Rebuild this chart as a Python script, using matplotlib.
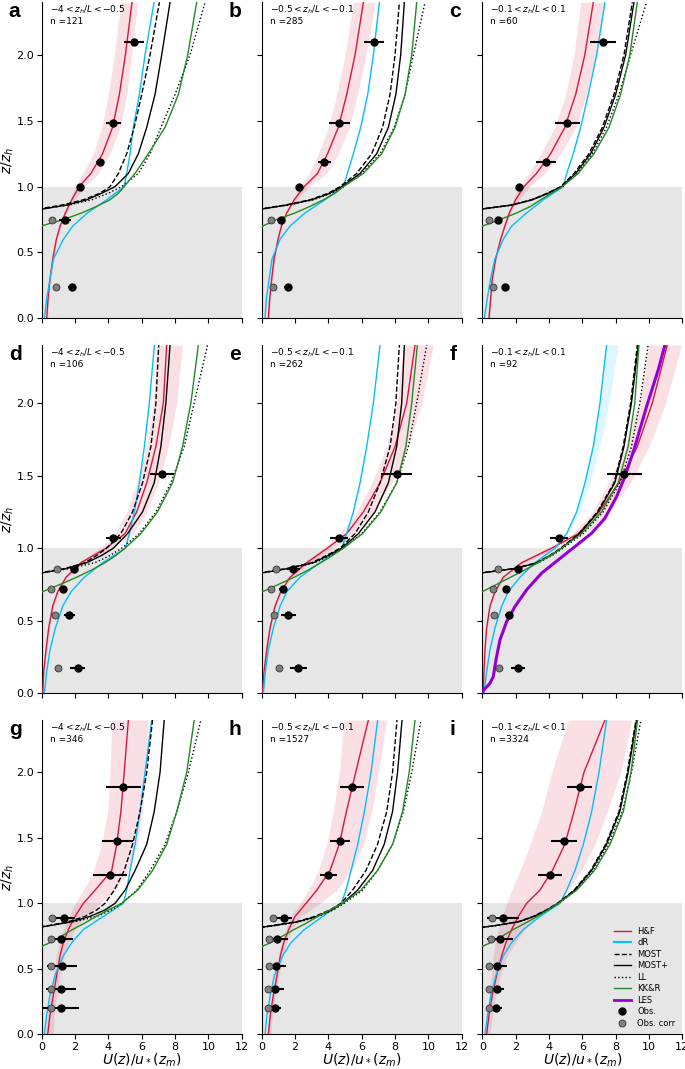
#!/usr/bin/env python3
# -*- coding: utf-8 -*-
"""
Perfiles de viento adimensionales U(z)/u*(zm) vs z/zh
9 paneles: 3 rangos de estabilidad x 3 sitios
"""

import matplotlib
matplotlib.use('Agg')
import matplotlib.pyplot as plt
from matplotlib.lines import Line2D

#%% Datos

# niveles verticales (z/zh)
z_full = [0, 0.15, 0.3, 0.45, 0.6, 0.7, 0.8, 0.9, 1.0, 1.1, 1.25, 1.45, 1.7, 2.0, 2.4]
z_log = [0.80, 0.83, 0.86, 0.90, 0.95, 1.0, 1.1, 1.25, 1.45, 1.7, 2.0, 2.4]
z_kkr = [0.66, 0.70, 0.75, 0.80, 0.85, 0.90, 0.95, 1.0, 1.1, 1.25, 1.45, 1.7, 2.0, 2.4]

letras = ['a', 'b', 'c', 'd', 'e', 'f', 'g', 'h', 'i']
rangos = ['$-4 < z_h/L < -0.5$', '$-0.5 < z_h/L < -0.1$', '$-0.1 < z_h/L < 0.1$'] * 3
n_casos = [121, 285, 60, 106, 262, 92, 346, 1527, 3324]

# H&F (curva y banda)
hf_u = [
    [0.3, 0.38, 0.5, 0.66, 0.88, 1.1, 1.42, 1.8, 2.25, 2.95, 3.65, 4.25, 4.66, 5.02, 5.42],
    [0.4, 0.48, 0.6, 0.74, 0.98, 1.18, 1.5, 1.95, 2.55, 3.35, 3.95, 4.6, 5.1, 5.6, 6.1],
    [0.4, 0.5, 0.6, 0.8, 1.1, 1.35, 1.62, 2.0, 2.5, 3.25, 4.1, 4.95, 5.6, 6.15, 6.66],
    [0.06, 0.12, 0.26, 0.42, 0.66, 0.96, 1.46, 2.36, 3.86, 5.0, 5.7, 6.3, 6.85, 7.3, 7.5],
    [0.04, 0.14, 0.3, 0.5, 0.8, 1.14, 1.7, 2.7, 3.94, 5.1, 6.1, 7.1, 8.0, 8.7, 9.2],
    [0.06, 0.1, 0.16, 0.26, 0.46, 0.76, 1.26, 2.36, 4.16, 5.76, 7.0, 8.2, 9.3, 10.2, 11.1],
    [0.36, 0.5, 0.7, 0.9, 1.1, 1.3, 1.6, 2.0, 2.5, 3.2, 4.2, 4.5, 4.75, 4.95, 5.2],
    [0.4, 0.52, 0.7, 0.92, 1.12, 1.32, 1.62, 2.0, 2.66, 3.3, 4.1, 4.65, 5.08, 5.64, 6.4],
    [0.26, 0.4, 0.6, 0.86, 1.16, 1.42, 1.76, 2.16, 2.66, 3.45, 4.2, 4.95, 5.5, 6.1, 7.36],
]
hf_lo = [
    [0.25, 0.33, 0.45, 0.6, 0.82, 1.04, 1.35, 1.7, 2.0, 2.45, 3.1, 3.6, 4.0, 4.35, 4.75],
    [0.35, 0.43, 0.55, 0.69, 0.93, 1.12, 1.44, 1.85, 2.3, 2.85, 3.4, 4.0, 4.5, 5.0, 5.5],
    [0.35, 0.45, 0.55, 0.75, 1.05, 1.3, 1.55, 1.85, 2.2, 2.8, 3.5, 4.35, 5.0, 5.5, 5.9],
    [0.04, 0.1, 0.22, 0.38, 0.6, 0.9, 1.38, 2.2, 3.5, 4.4, 5.1, 5.7, 6.3, 6.7, 6.9],
    [0.02, 0.1, 0.26, 0.45, 0.74, 1.08, 1.62, 2.55, 3.7, 4.7, 5.7, 6.6, 7.5, 8.1, 8.5],
    [0.04, 0.08, 0.14, 0.23, 0.42, 0.7, 1.18, 2.2, 3.9, 5.4, 6.6, 7.6, 8.6, 9.4, 10.0],
    [0.2, 0.35, 0.52, 0.7, 0.88, 1.05, 1.3, 1.65, 2.0, 2.5, 3.1, 3.6, 3.95, 4.1, 4.2],
    [0.3, 0.42, 0.6, 0.8, 1.0, 1.18, 1.45, 1.75, 2.3, 2.8, 3.4, 3.9, 4.3, 4.65, 4.95],
    [0.16, 0.28, 0.42, 0.55, 0.65, 0.76, 0.96, 1.2, 1.46, 1.76, 2.26, 2.86, 3.56, 4.16, 5.16],
]
hf_hi = [
    [0.35, 0.43, 0.55, 0.72, 0.94, 1.16, 1.5, 1.95, 2.6, 3.4, 4.1, 4.7, 5.1, 5.4, 5.75],
    [0.45, 0.53, 0.65, 0.8, 1.04, 1.24, 1.56, 2.1, 2.85, 3.9, 4.6, 5.25, 5.75, 6.25, 6.8],
    [0.45, 0.55, 0.65, 0.85, 1.15, 1.4, 1.7, 2.2, 2.85, 3.75, 4.7, 5.6, 6.25, 6.8, 7.35],
    [0.08, 0.15, 0.3, 0.48, 0.72, 1.04, 1.56, 2.55, 4.2, 5.5, 6.3, 7.0, 7.6, 8.1, 8.45],
    [0.06, 0.18, 0.34, 0.55, 0.86, 1.2, 1.8, 2.9, 4.3, 5.6, 6.7, 7.8, 8.8, 9.6, 10.3],
    [0.08, 0.12, 0.18, 0.29, 0.5, 0.82, 1.34, 2.5, 4.4, 6.2, 7.6, 8.9, 10.0, 11.0, 11.95],
    [0.7, 0.75, 0.9, 1.1, 1.35, 1.6, 2.0, 2.6, 3.5, 4.4, 5.2, 5.75, 6.05, 6.25, 6.4],
    [0.55, 0.65, 0.82, 1.05, 1.27, 1.5, 1.85, 2.35, 3.5, 4.5, 5.4, 6.1, 6.6, 7.0, 7.5],
    [0.46, 0.6, 0.8, 1.1, 1.5, 2.0, 2.55, 3.3, 4.5, 5.15, 5.95, 6.75, 7.5, 8.3, 8.96],
]

# dR
dr_u = [
    [0.16, 0.3, 0.5, 0.7, 1.3, 1.86, 2.74, 3.9, 4.94, 5.1, 5.3, 5.5, 5.86, 6.2, 6.74],
    [0.2, 0.28, 0.45, 0.62, 1.1, 1.7, 2.6, 3.8, 4.9, 5.14, 5.5, 5.94, 6.36, 6.7, 7.06],
    [0.12, 0.3, 0.5, 0.75, 1.26, 1.76, 2.66, 3.66, 4.86, 5.06, 5.46, 5.9, 6.36, 6.86, 7.36],
    [0.16, 0.3, 0.5, 0.82, 1.26, 1.76, 2.56, 3.66, 5.02, 5.26, 5.56, 5.86, 6.16, 6.46, 6.76],
    [0.1, 0.22, 0.4, 0.7, 1.1, 1.5, 2.3, 3.5, 4.8, 5.1, 5.5, 5.9, 6.3, 6.7, 7.1],
    [0.1, 0.26, 0.46, 0.76, 1.16, 1.56, 2.26, 3.16, 4.36, 5.06, 5.66, 6.16, 6.66, 7.06, 7.46],
    [0.16, 0.3, 0.5, 0.8, 1.3, 1.8, 2.5, 3.7, 4.9, 5.1, 5.3, 5.6, 5.9, 6.2, 6.6],
    [0.2, 0.32, 0.52, 0.76, 1.26, 1.76, 2.56, 3.66, 4.76, 5.06, 5.36, 5.76, 6.16, 6.56, 6.96],
    [0.16, 0.32, 0.52, 0.82, 1.26, 1.76, 2.46, 3.46, 4.66, 5.06, 5.56, 6.06, 6.56, 7.0, 7.46],
]
dr_hi_f = [0.1, 0.26, 0.46, 0.76, 1.16, 1.56, 2.26, 3.16, 4.36, 5.15, 5.85, 6.45, 7.05, 7.6, 8.16]

# MOST, MOST+, LL (sobre z_log)
most_u = [
    [-2, -0.2, 1.2, 2.5, 3.5, 4.1, 4.6, 5.1, 5.55, 6.0, 6.5, 7.06],
    [-2, -0.1, 1.4, 2.9, 4.0, 4.7, 5.7, 6.6, 7.25, 7.7, 8.0, 8.26],
    [-2, -0.1, 1.7, 2.95, 3.9, 4.7, 5.5, 6.4, 7.2, 7.9, 8.5, 9.0],
    [-2, -0.1, 1.4, 2.6, 3.3, 3.9, 4.75, 5.45, 6.05, 6.55, 6.85, 7.02],
    [-2, -0.1, 1.5, 3.0, 3.9, 4.7, 5.6, 6.4, 7.1, 7.7, 8.05, 8.26],
    [-2, -0.1, 1.9, 3.25, 4.05, 4.7, 5.8, 6.9, 7.9, 8.45, 8.9, 9.3],
    [-1, 0.4, 1.6, 2.6, 3.3, 3.8, 4.35, 4.95, 5.45, 5.9, 6.3, 6.65],
    [-1, 0.6, 2.1, 3.2, 4.1, 4.75, 5.45, 6.25, 6.95, 7.5, 7.85, 8.12],
    [-1, 0.75, 2.15, 3.05, 3.85, 4.5, 5.5, 6.5, 7.4, 8.2, 8.7, 9.22],
]
mostp_u = [
    [-1.5, 0.05, 1.5, 2.7, 3.6, 4.4, 5.2, 5.8, 6.3, 6.8, 7.2, 7.7],
    [-2, 0.0, 1.5, 3.0, 4.1, 4.8, 5.9, 6.9, 7.6, 8.05, 8.34, 8.56],
    [-2, 0.0, 1.8, 3.0, 3.95, 4.75, 5.6, 6.5, 7.3, 8.0, 8.6, 9.1],
    [-2, 0.05, 1.5, 2.7, 3.6, 4.3, 5.15, 6.05, 6.75, 7.15, 7.45, 7.7],
    [-2, 0.05, 1.6, 3.1, 4.0, 4.8, 5.8, 6.8, 7.6, 8.1, 8.4, 8.56],
    [-2, 0.0, 2.0, 3.3, 4.1, 4.75, 5.85, 6.95, 7.95, 8.5, 8.95, 9.36],
    [-1, 0.5, 1.8, 2.9, 3.8, 4.4, 5.0, 5.6, 6.3, 6.75, 7.1, 7.35],
    [-1, 0.7, 2.2, 3.3, 4.2, 4.85, 5.75, 6.65, 7.35, 7.85, 8.15, 8.42],
    [-1, 0.8, 2.2, 3.1, 3.9, 4.55, 5.55, 6.55, 7.45, 8.25, 8.75, 9.26],
]
ll_u = [
    [-2, 0.0, 1.6, 3.0, 4.0, 4.8, 5.8, 6.5, 7.15, 8.0, 8.9, 9.8],
    [-2, 0.0, 1.6, 3.1, 4.2, 4.9, 6.0, 7.1, 7.95, 8.6, 9.1, 9.8],
    [-2, 0.0, 1.8, 3.0, 4.0, 4.8, 5.7, 6.6, 7.45, 8.2, 8.9, 9.85],
    [-2, 0.0, 1.7, 3.2, 4.1, 4.8, 5.85, 6.85, 7.75, 8.55, 9.15, 9.95],
    [-2, 0.0, 1.7, 3.2, 4.1, 4.9, 6.0, 7.1, 8.1, 8.8, 9.3, 9.9],
    [-2, 0.0, 2.0, 3.35, 4.2, 4.85, 6.05, 7.25, 8.25, 8.95, 9.45, 9.95],
    [-1, 0.45, 2.0, 3.3, 4.2, 4.8, 5.7, 6.5, 7.4, 8.1, 8.8, 9.55],
    [-1, 0.8, 2.3, 3.4, 4.3, 4.95, 6.05, 6.95, 7.85, 8.5, 9.0, 9.56],
    [-1, 0.8, 2.25, 3.15, 3.95, 4.6, 5.6, 6.65, 7.55, 8.4, 8.95, 9.52],
]

# KK&R (sobre z_kkr)
kkr_u = [
    [-0.9, -0.05, 1.3, 2.4, 3.3, 4.1, 4.6, 4.94, 5.6, 6.4, 7.4, 8.2, 8.76, 9.3],
    [-0.9, 0.05, 0.9, 2.0, 2.9, 3.7, 4.4, 4.9, 6.1, 7.2, 8.0, 8.6, 9.0, 9.3],
    [-0.9, 0.0, 1.06, 2.06, 2.9, 3.5, 4.15, 4.8, 5.75, 6.7, 7.6, 8.3, 8.85, 9.3],
    [-0.9, 0.05, 1.1, 2.1, 3.0, 3.8, 4.45, 5.0, 5.95, 6.95, 7.85, 8.45, 8.95, 9.4],
    [-0.9, 0.05, 1.0, 1.95, 2.8, 3.55, 4.25, 4.9, 6.05, 7.15, 8.1, 8.65, 9.0, 9.34],
    [-0.9, 0.0, 0.85, 1.7, 2.55, 3.35, 4.1, 4.75, 5.95, 7.15, 8.15, 8.75, 9.15, 9.4],
    [-0.2, 0.5, 1.2, 1.85, 2.6, 3.25, 4.0, 4.8, 5.75, 6.65, 7.5, 8.1, 8.7, 9.15],
    [-0.2, 0.55, 1.25, 1.95, 2.7, 3.35, 4.1, 4.85, 5.95, 6.95, 7.85, 8.45, 8.85, 9.2],
    [-0.2, 0.5, 1.2, 1.85, 2.6, 3.3, 3.95, 4.56, 5.66, 6.72, 7.66, 8.46, 8.92, 9.32],
]

# LES (solo panel f)
les_u = [0, 0.46, 0.66, 0.82, 1.06, 1.46, 1.96, 2.66, 3.56, 4.56, 5.56, 6.56, 7.36, 8.06, 8.56, 9.16, 9.86, 10.56, 10.96]
les_z = [0.011, 0.069, 0.115, 0.23, 0.368, 0.494, 0.598, 0.713, 0.828, 0.92, 1.011, 1.103, 1.207, 1.356, 1.494, 1.701, 1.977, 2.23, 2.4]

# Observaciones
obs_z_fila = [
    [2.1, 1.48, 1.185, 1.0, 0.75, 0.24],
    [1.513, 1.067, 0.855, 0.722, 0.54, 0.172],
    [1.888, 1.478, 1.216, 0.885, 0.73, 0.524, 0.349, 0.204],
]
corr_z_fila = [
    [0.75, 0.24],
    [0.855, 0.722, 0.54, 0.172],
    [0.885, 0.73, 0.524, 0.349, 0.204],
]
obs_u = [
    [5.54, 4.3, 3.5, 2.3, 1.4, 1.8],
    [6.74, 4.66, 3.76, 2.26, 1.14, 1.56],
    [7.22, 5.1, 3.82, 2.2, 0.92, 1.36],
    [7.22, 4.3, 1.96, 1.26, 1.66, 2.16],
    [8.1, 4.62, 1.9, 1.26, 1.6, 2.2],
    [8.52, 4.62, 2.12, 1.44, 1.62, 2.16],
    [4.9, 4.54, 4.1, 1.36, 1.16, 1.2, 1.16, 1.14],
    [5.42, 4.68, 4.0, 1.36, 0.92, 0.88, 0.82, 0.8],
    [5.86, 4.9, 4.06, 1.26, 1.06, 0.9, 0.86, 0.82],
]
obs_err = [
    [0.6, 0.45, 0.25, 0.1, 0.35, 0.25],
    [0.62, 0.65, 0.4, 0.1, 0.2, 0.2],
    [0.78, 0.75, 0.6, 0.1, 0.1, 0.05],
    [0.7, 0.47, 0.2, 0.25, 0.35, 0.45],
    [0.94, 0.55, 0.4, 0.25, 0.43, 0.52],
    [1.05, 0.55, 0.25, 0.2, 0.25, 0.42],
    [1.05, 0.92, 1.0, 0.64, 0.7, 0.9, 0.9, 1.1],
    [0.7, 0.6, 0.52, 0.48, 0.65, 0.58, 0.54, 0.36],
    [0.75, 0.8, 0.7, 0.95, 0.8, 0.56, 0.46, 0.38],
]
corr_u = [
    [0.64, 0.86],
    [0.54, 0.7],
    [0.42, 0.62],
    [0.9, 0.58, 0.78, 1.0],
    [0.86, 0.56, 0.72, 1.02],
    [0.96, 0.64, 0.72, 0.98],
    [0.6, 0.54, 0.54, 0.54, 0.54],
    [0.66, 0.44, 0.42, 0.4, 0.4],
    [0.6, 0.5, 0.42, 0.4, 0.38],
]

#%% Figura

W, H = 685, 1069
col_left = [41.7, 261.7, 482.3]   # px
fila_px = [(2.3, 318.3), (345, 693.3), (720, 1034.3)]  # (arriba, abajo) px

c_hf = 'crimson'
c_dr = 'deepskyblue'
c_kkr = 'forestgreen'
c_les = 'darkviolet'

fig = plt.figure(figsize=(W/100, H/100), dpi=100)

for k in range(9):
    fila, col = divmod(k, 3)
    top, bot = fila_px[fila]
    ax = fig.add_axes([col_left[col]/W, 1 - bot/H, 200/W, (bot - top)/H])

    ax.axhspan(0, 1, color='#e6e6e6', lw=0, zorder=0)
    ax.fill_betweenx(z_full, hf_lo[k], hf_hi[k], color=c_hf, alpha=0.13, lw=0, zorder=1)
    if k == 5:
        ax.fill_betweenx(z_full, dr_u[k], dr_hi_f, color=c_dr, alpha=0.13, lw=0, zorder=1)

    ax.plot(hf_u[k], z_full, color=c_hf, lw=1.0, zorder=3)
    ax.plot(dr_u[k], z_full, color=c_dr, lw=1.0, zorder=3)
    ax.plot(most_u[k], z_log, color='k', ls='--', lw=1.0, zorder=3)
    ax.plot(mostp_u[k], z_log, color='k', lw=1.0, zorder=3)
    ax.plot(ll_u[k], z_log, color='k', ls=':', lw=1.0, zorder=3)
    ax.plot(kkr_u[k], z_kkr, color=c_kkr, lw=1.0, zorder=3)
    if k == 5:
        ax.plot(les_u, les_z, color=c_les, lw=2.2, zorder=4)

    ax.errorbar(obs_u[k], obs_z_fila[fila], xerr=obs_err[k], fmt='o', color='k',
                ms=5, elinewidth=1.5, capsize=0, zorder=5)
    ax.plot(corr_u[k], corr_z_fila[fila], 'o', mfc='grey', mec='#333333', mew=0.6,
            ms=5, zorder=6)

    ax.set_xlim(0, 12)
    ax.set_ylim(0, 2.4)
    ax.set_xticks([0, 2, 4, 6, 8, 10, 12])
    ax.set_yticks([0, 0.5, 1.0, 1.5, 2.0])
    ax.spines['top'].set_visible(False)
    ax.spines['right'].set_visible(False)
    ax.tick_params(labelsize=8, length=3.5, pad=2)

    if fila < 2:
        ax.set_xticklabels([])
    else:
        ax.set_xlabel('$U(z)/u_*(z_m)$', fontsize=10, labelpad=0)
    if col > 0:
        ax.set_yticklabels([])
    else:
        ax.set_ylabel('$z/z_h$', fontsize=10, labelpad=0)

    ax.text(0.04, 0.995, rangos[k] + '\nn =' + str(n_casos[k]), transform=ax.transAxes,
            fontsize=6.5, va='top', ha='left', linespacing=1.1)
    ax.text(-0.165, 1.0, letras[k], transform=ax.transAxes, fontsize=15,
            fontweight='bold', family='Liberation Sans', va='top', ha='left')

    if k == 8:
        handles = [
            Line2D([], [], color=c_hf, lw=1.0),
            Line2D([], [], color=c_dr, lw=1.5),
            Line2D([], [], color='k', ls='--', lw=1.0),
            Line2D([], [], color='k', lw=1.0),
            Line2D([], [], color='k', ls=':', lw=1.0),
            Line2D([], [], color=c_kkr, lw=1.0),
            Line2D([], [], color=c_les, lw=2.0),
            Line2D([], [], color='k', marker='o', ls='', ms=5),
            Line2D([], [], color='grey', marker='o', ls='', ms=5, mec='#333333', mew=0.6),
        ]
        etiquetas = ['H&F', 'dR', 'MOST', 'MOST+', 'LL', 'KK&R', 'LES', 'Obs.', 'Obs. corr']
        ax.legend(handles, etiquetas, loc='lower right', fontsize=6, frameon=False,
                  handlelength=2.0, labelspacing=0.3, borderaxespad=0.4)

fig.savefig('out.png', dpi=100)
